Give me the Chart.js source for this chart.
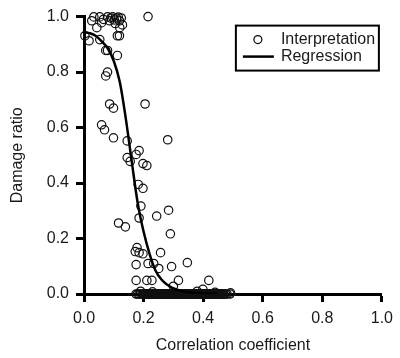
<!DOCTYPE html>
<html>
<head>
<meta charset="utf-8">
<script src="https://cdn.jsdelivr.net/npm/chart.js@4/dist/chart.umd.min.js"></script>
<style>
  html, body { margin: 0; padding: 0; background: #fff; }
</style>
</head>
<body>
<canvas id="chart" width="400" height="358"></canvas>
<script>
// scattered interpretation results (correlation coefficient, damage ratio)
const interpX = [0.033, 0.053, 0.079, 0.096, 0.109, 0.125, 0.026, 0.043, 0.059, 0.086, 0.102, 0.119, 0.129,
  0.090, 0.115, 0.105, 0.065, 0.120,
  0.003, 0.017, 0.053, 0.112, 0.119, 0.073, 0.079, 0.112, 0.215,
  0.079, 0.073, 0.086, 0.099, 0.205, 0.059, 0.069, 0.099, 0.145, 0.281,
  0.185, 0.175, 0.145, 0.155, 0.198, 0.211, 0.182, 0.198, 0.191, 0.185, 0.244, 0.284,
  0.116, 0.139, 0.290, 0.178, 0.172, 0.185, 0.198, 0.257,
  0.175, 0.215, 0.234, 0.251, 0.294, 0.347,
  0.175, 0.211, 0.228, 0.317, 0.419, 0.300, 0.399,
  0.190, 0.230, 0.300, 0.380, 0.440, 0.492];
const interpY = [0.999, 0.999, 0.999, 0.999, 0.995, 0.995, 0.985, 0.960, 0.978, 0.985, 0.988, 0.985, 0.970,
  0.995, 0.998, 0.975, 0.990, 0.960,
  0.931, 0.913, 0.917, 0.931, 0.931, 0.878, 0.878, 0.860, 1.000,
  0.800, 0.786, 0.685, 0.670, 0.685, 0.610, 0.592, 0.563, 0.552, 0.556,
  0.517, 0.503, 0.492, 0.478, 0.470, 0.463, 0.395, 0.381, 0.317, 0.274, 0.281, 0.302,
  0.256, 0.242, 0.217, 0.167, 0.153, 0.149, 0.145, 0.149,
  0.106, 0.110, 0.110, 0.092, 0.099, 0.113,
  0.049, 0.049, 0.049, 0.049, 0.049, 0.028, 0.017,
  0.010, 0.008, 0.006, 0.010, 0.006, 0.004];
// results with zero damage, crowded along the x axis
const zeroX = [0.175, 0.180, 0.185, 0.190, 0.195,
  0.2000, 0.2025, 0.2050, 0.2075, 0.2100, 0.2125, 0.2150, 0.2175, 0.2200, 0.2225, 0.2250, 0.2275,
  0.2300, 0.2325, 0.2350, 0.2375, 0.2400, 0.2425, 0.2450, 0.2475, 0.2500, 0.2525, 0.2550, 0.2575,
  0.2600, 0.2625, 0.2650, 0.2675, 0.2700, 0.2725, 0.2750, 0.2775, 0.2800, 0.2825, 0.2850, 0.2875,
  0.2900, 0.2925, 0.2950, 0.2975, 0.3000, 0.3025, 0.3050, 0.3075, 0.3100, 0.3125, 0.3150, 0.3175,
  0.3200, 0.3225, 0.3250, 0.3275, 0.3300, 0.3325, 0.3350, 0.3375, 0.3400, 0.3425, 0.3450, 0.3475,
  0.3500, 0.3525, 0.3550, 0.3575, 0.3600, 0.3625, 0.3650, 0.3675, 0.3700, 0.3725, 0.3750, 0.3775,
  0.3800, 0.3825, 0.3850, 0.3875, 0.3900, 0.3925, 0.3950, 0.3975, 0.4000, 0.4025, 0.4050, 0.4075,
  0.4100, 0.4125, 0.4150, 0.4175, 0.4200, 0.4225, 0.4250, 0.4275, 0.4300, 0.4325, 0.4350, 0.4375,
  0.4400, 0.4425, 0.4450, 0.4475, 0.4500, 0.4525, 0.4550, 0.4575, 0.4600, 0.4625, 0.4650, 0.4675,
  0.4700, 0.4750, 0.4800, 0.4900];

// regression curve
const regX = [0.00, 0.02, 0.04, 0.06, 0.08, 0.10, 0.12, 0.14, 0.16, 0.18, 0.20, 0.22, 0.24, 0.26, 0.28, 0.30, 0.33, 0.36, 0.40, 0.45];
const regY = [0.944, 0.940, 0.930, 0.910, 0.885, 0.840, 0.765, 0.635, 0.480, 0.330, 0.225, 0.145, 0.085, 0.052, 0.033, 0.020, 0.010, 0.005, 0.002, 0.000];

const xTickLabels = ['0.0', '0.2', '0.4', '0.6', '0.8', '1.0'];
const yTickLabels = ['0.0', '0.2', '0.4', '0.6', '0.8', '1.0'];
const seriesNames = ['Interpretation', 'Regression'];

const FONT = 'Liberation Sans, Arial, sans-serif';
Chart.defaults.font.family = FONT;

let interpPts = interpX.map((x, i) => ({ x: x, y: interpY[i] }));
for (const x of zeroX) interpPts.push({ x: x, y: 0 });
const regPts = regX.map((x, i) => ({ x: x, y: regY[i] }));

// boxed legend in the upper right of the plot
const boxLegend = {
  id: 'boxLegend',
  afterDraw(chart) {
    const ctx = chart.ctx;
    const a = chart.chartArea;
    const bx = a.right - 146, by = a.top + 9, bw = 143, bh = 45;
    ctx.save();
    ctx.strokeStyle = '#000';
    ctx.fillStyle = '#fff';
    ctx.lineWidth = 2;
    ctx.fillRect(bx, by, bw, bh);
    ctx.strokeRect(bx, by, bw, bh);
    // circle marker
    ctx.lineWidth = 1.2;
    ctx.beginPath();
    ctx.arc(bx + 22, by + 14, 4, 0, Math.PI * 2);
    ctx.stroke();
    // line marker
    ctx.lineWidth = 2.5;
    ctx.beginPath();
    ctx.moveTo(bx + 7, by + 31);
    ctx.lineTo(bx + 38, by + 31);
    ctx.stroke();
    ctx.fillStyle = '#1a1a1a';
    ctx.font = '16px ' + FONT;
    ctx.textBaseline = 'middle';
    ctx.fillText(seriesNames[0], bx + 45, by + 14);
    ctx.fillText(seriesNames[1], bx + 45, by + 31);
    ctx.restore();
  }
};

function axisOpts(labels, title, titlePad) {
  return {
    type: 'linear',
    min: 0,
    max: 1,
    border: { display: true, width: 3, color: '#000' },
    grid: { drawOnChartArea: false, drawTicks: true, tickLength: 8, tickWidth: 3, tickColor: '#000' },
    ticks: {
      stepSize: 0.2,
      padding: 7,
      color: '#1a1a1a',
      font: { size: 16 },
      maxRotation: 0,
      callback: (v, i) => labels[i]
    },
    title: { display: true, text: title, color: '#1a1a1a', font: { size: 16 }, padding: titlePad }
  };
}

const xAxis = axisOpts(xTickLabels, 'Correlation coefficient', 3);
xAxis.afterFit = (s) => { s.height = 64; };
const yAxis = axisOpts(yTickLabels, 'Damage ratio', 8);
yAxis.afterFit = (s) => { s.width = 84; };

new Chart(document.getElementById('chart'), {
  type: 'scatter',
  data: {
    datasets: [
      {
        label: seriesNames[1],
        data: regPts,
        showLine: true,
        pointRadius: 0,
        borderColor: '#000',
        borderWidth: 2.5,
        cubicInterpolationMode: 'monotone',
        order: 0
      },
      {
        label: seriesNames[0],
        data: interpPts,
        pointStyle: 'circle',
        pointRadius: 4.2,
        pointBorderWidth: 1.2,
        pointBorderColor: '#111',
        pointBackgroundColor: 'rgba(0,0,0,0)',
        clip: false,
        order: 1
      }
    ]
  },
  options: {
    responsive: false,
    animation: false,
    layout: { padding: { top: 14, right: 13, left: 0, bottom: 0 } },
    plugins: { legend: { display: false }, tooltip: { enabled: false } },
    scales: { x: xAxis, y: yAxis }
  },
  plugins: [boxLegend]
});
</script>
</body>
</html>
